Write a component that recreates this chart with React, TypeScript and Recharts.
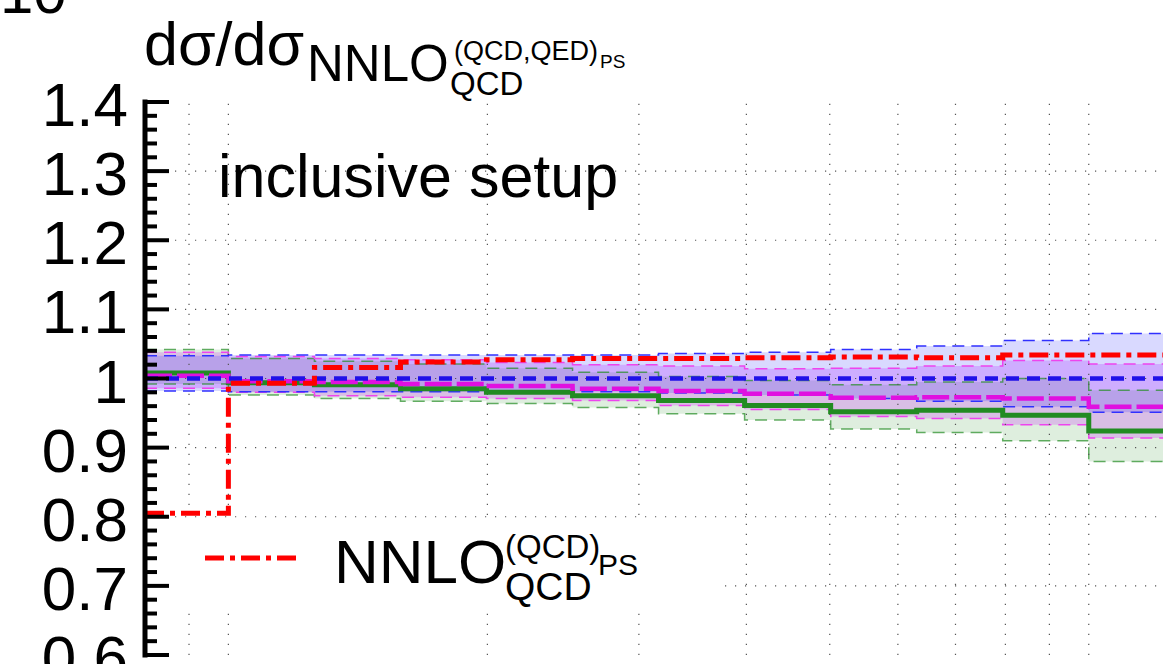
import React from 'react';
import { ComposedChart, Line, Area, XAxis, YAxis, ReferenceLine } from 'recharts';

// bin edges (log spaced), last edge closes the last bin
const binEdges = [8, 10, 12.59, 15.85, 19.95, 25.12, 31.62, 39.81, 50.12, 63.1, 79.43, 100, 125.89];

// ratio values per bin
const nnloQcdPs = [0.805, 0.993, 1.016, 1.024, 1.027, 1.029, 1.029, 1.03, 1.031, 1.03, 1.034, 1.034];

const blueMid = [1, 1, 1, 1, 1, 1, 1, 1, 1, 1, 1, 1];
const blueHi = [1.033, 1.034, 1.034, 1.034, 1.034, 1.034, 1.036, 1.038, 1.042, 1.047, 1.055, 1.065];
const blueLo = [0.982, 0.981, 0.981, 0.981, 0.981, 0.981, 0.979, 0.976, 0.971, 0.967, 0.959, 0.951];

const magMid = [1.004, 0.996, 0.995, 0.992, 0.989, 0.985, 0.982, 0.978, 0.972, 0.973, 0.971, 0.959];
const magHi = [1.038, 1.032, 1.029, 1.027, 1.023, 1.02, 1.018, 1.014, 1.015, 1.018, 1.026, 1.021];
const magLo = [0.986, 0.98, 0.975, 0.973, 0.971, 0.968, 0.961, 0.955, 0.945, 0.942, 0.933, 0.914];

const greenMid = [1.008, 0.994, 0.991, 0.985, 0.98, 0.975, 0.968, 0.961, 0.952, 0.954, 0.947, 0.924];
const greenHi = [1.042, 1.029, 1.025, 1.021, 1.015, 1.009, 1.003, 0.997, 0.991, 0.995, 1.0, 0.983];
const greenLo = [0.992, 0.976, 0.971, 0.967, 0.964, 0.958, 0.949, 0.94, 0.927, 0.922, 0.91, 0.88];

const xTicks = [9, 10, 20, 30, 40, 50, 60, 70, 80, 90, 100];
const xMajor = [10, 100];
const yLabels = ['0.6', '0.7', '0.8', '0.9', '1', '1.1', '1.2', '1.3', '1.4'];
const yGrid = [0.7, 0.8, 0.9, 1.0, 1.1, 1.2, 1.3];

// minor y ticks every 0.02
const yTicks: number[] = [];
for (let i = 0; i <= 40; i++) yTicks.push(Math.round((0.6 + i * 0.02) * 100) / 100);

const last = nnloQcdPs.length - 1;
const data = binEdges.map((x, i) => {
  const k = Math.min(i, last);
  return {
    x,
    red: nnloQcdPs[k],
    bMid: blueMid[k], bHi: blueHi[k], bLo: blueLo[k],
    mMid: magMid[k], mHi: magHi[k], mLo: magLo[k],
    gMid: greenMid[k], gHi: greenHi[k], gLo: greenLo[k],
  };
});

const FONT = '"Liberation Sans", Arial, Helvetica, sans-serif';
const TICK_MARGIN = 17;

const YTick = (props: any) => {
  const { x, y, payload } = props;
  const v = payload.value;
  const idx = Math.round((v - 0.6) * 10);
  const major = Math.abs((v - 0.6) * 10 - idx) < 1e-6;
  const ax = x + TICK_MARGIN;
  return (
    <g>
      <line x1={ax} x2={ax + (major ? 24 : 12)} y1={y} y2={y} stroke="#000" strokeWidth={4} />
      {major && (
        <text x={x} y={y + 24} textAnchor="end" fontFamily={FONT} fontSize={62} fill="#000">
          {yLabels[idx]}
        </text>
      )}
    </g>
  );
};

const BottomTick = (props: any) => {
  const { x, y, payload } = props;
  const len = xMajor.includes(payload.value) ? 23 : 11;
  return <line x1={x} x2={x} y1={y} y2={y - len} stroke="#000" strokeWidth={4} />;
};

const TopTick = (props: any) => {
  const { x, y, payload } = props;
  const len = xMajor.includes(payload.value) ? 23 : 11;
  return <line x1={x} x2={x} y1={y} y2={y + len} stroke="#000" strokeWidth={4} />;
};

const thin = { strokeWidth: 1.5, strokeDasharray: '12 7', dot: false, activeDot: false, isAnimationActive: false, type: 'stepAfter' as const };

export default function App() {
  return (
    <div style={{ position: 'fixed', left: 0, top: 0, width: 1163, height: 664, overflow: 'hidden', background: '#fff' }}>
      <ComposedChart width={1300} height={720} data={data} margin={{ top: 102, right: 0, bottom: 65, left: 0 }}>
        <XAxis
          dataKey="x" type="number" scale="log" domain={[8, 176]} allowDataOverflow
          ticks={xTicks} tick={<BottomTick />} tickSize={0} tickMargin={0} height={0}
          axisLine={{ stroke: '#000', strokeWidth: 5, strokeLinecap: 'square' }} tickLine={false}
        />
        <XAxis
          xAxisId="top" orientation="top" dataKey="x" type="number" scale="log" domain={[8, 176]} allowDataOverflow
          ticks={xTicks} tick={<TopTick />} tickSize={0} tickMargin={0} height={0}
          axisLine={{ stroke: '#000', strokeWidth: 5, strokeLinecap: 'square' }} tickLine={false}
        />
        <YAxis
          type="number" domain={[0.6, 1.4]} allowDataOverflow ticks={yTicks} interval={0}
          tick={<YTick />} tickSize={0} tickMargin={TICK_MARGIN} width={145}
          axisLine={{ stroke: '#000', strokeWidth: 5, strokeLinecap: 'square' }} tickLine={false}
        />

        <Area dataKey={(d: any) => [d.gLo, d.gHi]} type="stepAfter" fill="#228b22" fillOpacity={0.15} stroke="none" isAnimationActive={false} activeDot={false} />
        <Area dataKey={(d: any) => [d.mLo, d.mHi]} type="stepAfter" fill="#c818ff" fillOpacity={0.22} stroke="none" isAnimationActive={false} activeDot={false} />
        <Area dataKey={(d: any) => [d.bLo, d.bHi]} type="stepAfter" fill="#0000ff" fillOpacity={0.15} stroke="none" isAnimationActive={false} activeDot={false} />

        <Line dataKey="gHi" stroke="#228b22" strokeOpacity={0.7} {...thin} />
        <Line dataKey="gLo" stroke="#228b22" strokeOpacity={0.7} {...thin} />
        <Line dataKey="mHi" stroke="#ee44ee" {...thin} />
        <Line dataKey="mLo" stroke="#ee44ee" {...thin} />
        <Line dataKey="bHi" stroke="#3030ff" {...thin} />
        <Line dataKey="bLo" stroke="#3030ff" {...thin} />

        {yGrid.map((v) => (
          <ReferenceLine key={'h' + v} y={v} stroke="#555" strokeWidth={1.2} strokeDasharray="1.2 8.8" />
        ))}
        {xTicks.map((v) => (
          <ReferenceLine key={'v' + v} x={v} stroke="#555" strokeWidth={1.2} strokeDasharray="1.2 8.8" />
        ))}

        <Line dataKey="gMid" type="stepAfter" stroke="#228b22" strokeWidth={5} dot={false} activeDot={false} isAnimationActive={false} />
        <Line dataKey="mMid" type="stepAfter" stroke="#e010e0" strokeWidth={4.5} strokeDasharray="27 5" dot={false} activeDot={false} isAnimationActive={false} />
        <Line dataKey="bMid" type="stepAfter" stroke="#2010e8" strokeWidth={4.5} strokeDasharray="13 8" dot={false} activeDot={false} isAnimationActive={false} />
        <Line dataKey="red" type="stepAfter" stroke="#ff0000" strokeWidth={5} strokeDasharray="19 6 5 6" dot={false} activeDot={false} isAnimationActive={false} />
      </ComposedChart>

      <svg width={1163} height={664} style={{ position: 'absolute', left: 0, top: 0, pointerEvents: 'none' }}>
        <g fontFamily={FONT} fill="#000">
          <text x={0} y={13} fontSize={60}>10</text>
          <text x={144} y={65} fontSize={61}>dσ/dσ</text>
          <text x={307} y={81} fontSize={51}>NNLO</text>
          <text x={454} y={60} fontSize={27}>(QCD,QED)</text>
          <text x={600} y={68} fontSize={19}>PS</text>
          <text x={450} y={95} fontSize={33}>QCD</text>
          <text x={218} y={197} fontSize={61}>inclusive setup</text>
        </g>
        <rect x={172} y={518} width={553} height={89} fill="#fff" />
        <line x1={205} x2={296} y1={558} y2={558} stroke="#ff0000" strokeWidth={5} strokeDasharray="19 6 5 6" />
        <g fontFamily={FONT} fill="#000">
          <text x={334} y={583} fontSize={62}>NNLO</text>
          <text x={505} y={558} fontSize={33}>(QCD)</text>
          <text x={598} y={575} fontSize={30}>PS</text>
          <text x={505} y={600} fontSize={39}>QCD</text>
        </g>
      </svg>
    </div>
  );
}
